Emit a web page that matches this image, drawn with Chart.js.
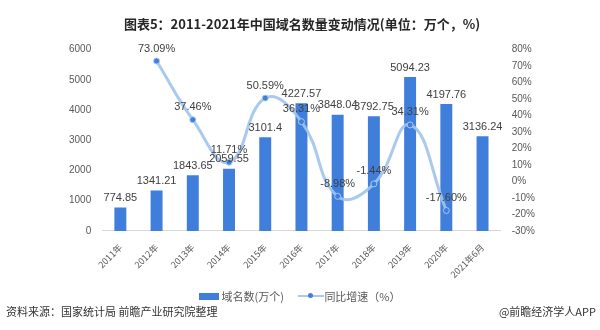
<!DOCTYPE html>
<html>
<head>
<meta charset="utf-8">
<script src="https://cdn.jsdelivr.net/npm/chart.js@4"></script>
<style>
  body { margin: 0; background: #fff; font-family: "Noto Sans CJK SC", "Noto Sans", sans-serif; }
  #wrap { position: relative; width: 600px; height: 330px; }
  #legend { position: absolute; top: 286px; left: 0; width: 600px; text-align: center; font-size: 11px; color: #595959; }
  #legend span { display: inline-block; vertical-align: middle; }
  .footer { position: absolute; top: 303px; font-size: 11px; color: #333; }
</style>
</head>
<body>
<div id="wrap">
  <canvas id="DomainChart" width="600" height="330"></canvas>
  <div id="legend">
    <span style="width:20px;height:7px;background:#3f7fdb;margin-right:2px"></span><span>域名数(万个)</span>
    <span style="position:relative;width:26px;height:10px;margin-left:12px">
      <span style="position:absolute;left:0;top:4px;width:26px;height:2px;background:#a9c9ec"></span>
      <span style="position:absolute;left:10px;top:2px;width:5px;height:5px;border-radius:50%;background:#3f7fdb"></span>
    </span><span>同比增速（%）</span>
  </div>
  <div class="footer" style="left:6px">资料来源：国家统计局 前瞻产业研究院整理</div>
  <div class="footer" style="right:4px">@前瞻经济学人APP</div>
</div>
<script>
const years = ["2011年", "2012年", "2013年", "2014年", "2015年", "2016年", "2017年", "2018年", "2019年", "2020年", "2021年6月"];
const domainCounts = [774.85, 1341.21, 1843.65, 2059.55, 3101.4, 4227.57, 3848.04, 3792.75, 5094.23, 4197.76, 3136.24];
const growthRates = [null, 73.09, 37.46, 11.71, 50.59, 36.31, -8.98, -1.44, 34.31, -17.60, null];

// value labels above bars (dataset 1) and above line points (dataset 0)
const valueLabels = {
  id: "valueLabels",
  afterDatasetsDraw(chart) {
    const ctx = chart.ctx;
    ctx.save();
    ctx.font = "11px 'Liberation Sans', 'Noto Sans', sans-serif";
    ctx.fillStyle = "#404040";
    ctx.textAlign = "center";
    ctx.textBaseline = "bottom";
    chart.getDatasetMeta(1).data.forEach((bar, i) => {
      ctx.fillText(domainCounts[i].toString(), bar.x, bar.y - 4);
    });
    chart.getDatasetMeta(0).data.forEach((pt, i) => {
      const v = growthRates[i];
      if (v === null) return;
      ctx.fillText(v.toFixed(2) + "%", pt.x, pt.y - 7);
    });
    ctx.restore();
  }
};

const ctx = document.getElementById("DomainChart").getContext("2d");
new Chart(ctx, {
  data: {
    labels: years,
    datasets: [
      {
        type: "line",
        label: "同比增速（%）",
        data: growthRates,
        yAxisID: "yRate",
        borderColor: "rgba(160, 196, 236, 0.9)",
        borderWidth: 3,
        tension: 0.45,
        pointRadius: 3,
        pointBackgroundColor: "#3f7fdb",
        pointBorderColor: "#a9c9ec",
        pointBorderWidth: 1,
        order: 0,
      },
      {
        type: "bar",
        label: "域名数(万个)",
        data: domainCounts,
        yAxisID: "yCount",
        backgroundColor: "#3f7fdb",
        categoryPercentage: 1,
        barPercentage: 0.33,
        order: 1,
      },
    ],
  },
  options: {
    responsive: false,
    animation: false,
    layout: { padding: { left: 66, right: 62, top: 16, bottom: 47 } },
    plugins: {
      legend: { display: false },
      tooltip: { enabled: false },
      title: {
        display: true,
        text: "图表5：2011-2021年中国域名数量变动情况(单位：万个，%)",
        color: "#262626",
        font: { family: "'Noto Sans CJK SC'", size: 13, weight: "bold" },
        padding: { top: 0, bottom: 18 },
      },
    },
    scales: {
      x: {
        grid: { display: false },
        border: { color: "#d9d9d9" },
        ticks: {
          color: "#595959",
          minRotation: 45,
          maxRotation: 45,
          font: { family: "'Noto Sans CJK SC'", size: 9 },
        },
      },
      yCount: {
        position: "left",
        min: 0,
        max: 6000,
        grid: { display: false },
        border: { display: false },
        ticks: { stepSize: 1000, color: "#595959", font: { size: 10 }, callback: (v) => String(v) },
      },
      yRate: {
        position: "right",
        min: -30,
        max: 80,
        grid: { display: false },
        border: { display: false },
        ticks: {
          stepSize: 10,
          color: "#595959",
          font: { size: 10 },
          callback: (v) => v + "%",
        },
      },
    },
  },
  plugins: [valueLabels],
});
</script>
</body>
</html>
